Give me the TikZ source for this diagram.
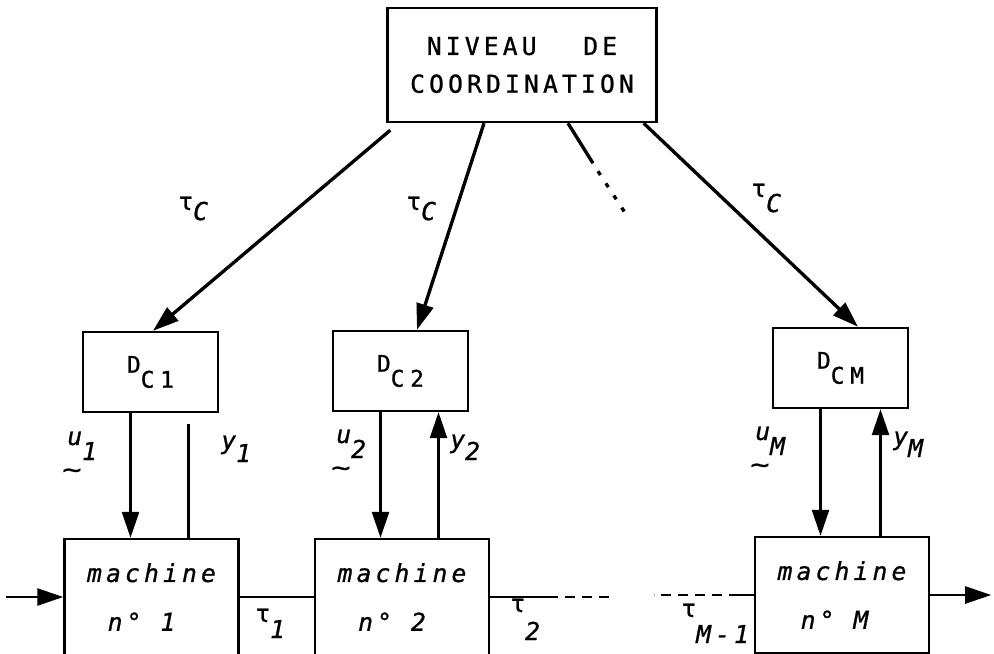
\documentclass[tikz,border=0pt]{standalone}
\usepackage{fontspec}
\usepackage{graphicx}
\newfontfamily\tw[LetterSpace=17, FakeBold=1]{DejaVu Sans Mono}
\newfontfamily\twd[LetterSpace=25, FakeBold=1]{DejaVu Sans Mono}
\usetikzlibrary{arrows.meta, calc}
\tikzset{
    box/.style={rectangle, draw=black, line width=1.4pt, inner sep=0pt, align=center},
    topbox/.style={box, minimum width=5.38cm, minimum height=2.28cm,
        font=\tw\fontsize{14}{21.5}\selectfont},
    dbox/.style={box, minimum width=2.7cm, minimum height=1.6cm,
        font=\twd\fontsize{13}{15}\selectfont},
    mach/.style={box, minimum width=3.48cm, minimum height=2.32cm,
        font=\tw\fontsize{14}{27.8}\selectfont\itshape},
    arr/.style={-{Triangle[length=0.52cm, width=0.34cm]}, line width=1.4pt, draw=black},
    ctrl/.style={arr, line width=1.9pt},
    link/.style={line width=1.4pt, draw=black},
    gap/.style={link, dash pattern=on 0.2cm off 0.14cm},
    dots/.style={line width=1.9pt, dash pattern=on 0.09cm off 0.2cm},
    lbl/.style={inner sep=0pt, anchor=base west, font=\tw\fontsize{14}{16}\selectfont}
}
% u with a tilde under it, and its index
\newcommand{\ulabel}[4]{%
    \node[lbl] (#1) at #2 {\itshape
        \rlap{\hspace{-0.1cm}\raisebox{-0.66cm}{\upshape\scalebox{1.3}[1]{\textasciitilde}}}%
        u\raisebox{-#4}{#3}};
}

\begin{document}
\begin{tikzpicture}[x=0.02cm, y=-0.02cm]
\useasboundingbox (0,0) rectangle (994,653);
\clip (0,0) rectangle (994,653);

%% boxes
\node[topbox] (top) at (522,65) {NIVEAU\hspace{1.9em}DE\\COORDINATION};

\node[dbox] (dc1) at (150.5,372) {\raisebox{0.3cm}{D}C1};
\node[dbox] (dc2) at (400.5,371) {\raisebox{0.3cm}{D}C2};
\node[dbox] (dcm) at (840.5,368) {\raisebox{0.3cm}{D}CM};

\node[mach] (m1) at (151.5,597) {machine\\n° 1\rule{0.4cm}{0pt}};
\node[mach] (m2) at (402,597)   {machine\\n° 2\rule{0.4cm}{0pt}};
\node[mach] (mM) at (842,595)   {machine\\n° M\rule{0.3cm}{0pt}};

%% coordination -> local controllers
\draw[ctrl] ([xshift=0.08cm, yshift=-0.14cm]top.south west) -- ([xshift=0.05cm]dc1.north);
\draw[ctrl] ([xshift=-0.76cm]top.south) -- ([xshift=0.33cm]dc2.north);
\draw[ctrl] ([xshift=-0.28cm]top.south east) -- ([xshift=0.35cm]dcm.north);
\draw[link, line width=1.9pt] ([xshift=0.92cm]top.south) -- ++(25,40) coordinate (dd);
\draw[dots] ($(dd)+(5,8)$) -- ++(28,43);

\node[lbl] (tc1) at (178,210) {τ\raisebox{-0.2cm}{\itshape C}};
\node[lbl] (tc2) at (406,210) {τ\raisebox{-0.2cm}{\itshape C}};
\node[lbl] (tc3) at (751,197) {τ\raisebox{-0.3cm}{\itshape C}};

%% controllers <-> machines
\draw[arr]  ($(dc1.south)+(-20,0)$) -- ($(dc1.south |- m1.north)+(-20,0)$);
\draw[link] ($(dc1.south |- m1.north)+(38,0)$) -- ($(dc1.south)+(38,11)$);
\draw[arr]  ($(dc2.south)+(-20,0)$) -- ($(dc2.south |- m2.north)+(-20,0)$);
\draw[arr]  ($(dc2.south |- m2.north)+(38,0)$) -- ($(dc2.south)+(38,0)$);
\draw[arr]  ($(dcm.south)+(-20,0)$) -- ($(dcm.south |- mM.north)+(-20,0)$);
\draw[arr]  ($(dcm.south |- mM.north)+(40,0)$) -- ($(dcm.south)+(40,0)$);

\ulabel{u1}{(67,445)}{1}{0.3cm}
\node[lbl] (y1) at (221,449) {\itshape y\raisebox{-0.26cm}{1}};
\ulabel{u2}{(336,443)}{2}{0.3cm}
\node[lbl] (y2) at (450,448) {\itshape y\raisebox{-0.24cm}{2}};
\ulabel{uM}{(755,440)}{M}{0.3cm}
\node[lbl] (yM) at (893,445) {\itshape y\raisebox{-0.24cm}{M}};

%% line of machines
\coordinate (in) at ($(m1.west)+(-57,0)$);
\coordinate (out) at ($(mM.east)+(61,0)$);
\draw[arr] (in) -- (m1.west);
\draw[link] (m1.east) -- (m2.west);
\draw[link] (m2.east) -- ++(58,0) coordinate (g1);
\draw[gap] (g1) -- ++(63,0);
\draw[link] (mM.west) -- ++(-15,0) coordinate (g2);
\draw[gap] (g2) -- ++(-85,0);
\draw[arr] (mM.east) -- (out);

\node[lbl] (t1) at (255,622) {τ\raisebox{-0.32cm}{\itshape 1}};
\node[lbl] (t2) at (510,612) {τ\raisebox{-0.56cm}{\itshape 2}};
\node[lbl] (tm) at (681,617) {τ\raisebox{-0.52cm}{\itshape M-1}};

\end{tikzpicture}
\end{document}
